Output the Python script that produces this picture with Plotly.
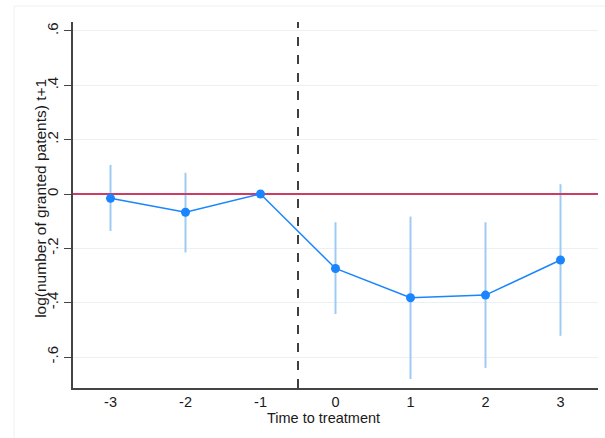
import plotly.graph_objects as go

periods = [-3, -2, -1, 0, 1, 2, 3]
estimates = [-0.016, -0.067, 0.0, -0.274, -0.382, -0.372, -0.243]
ci_upper = [0.107, 0.078, None, -0.104, -0.083, -0.104, 0.036]
ci_lower = [-0.136, -0.215, None, -0.442, -0.681, -0.640, -0.522]
y_ticks = [-0.6, -0.4, -0.2, 0, 0.2, 0.4, 0.6]
y_tick_labels = ["-.6", "-.4", "-.2", "0", ".2", ".4", ".6"]
x_tick_labels = ["-3", "-2", "-1", "0", "1", "2", "3"]
x_title = "Time to treatment"
y_title = "log(number of granted patents) t+1"

FONT = "Liberation Sans, Arial, sans-serif"
BLUE = "#1a85ff"
LIGHT_BLUE = "#9fcbf2"
RED = "#cc3d66"
TEXT = "#1a1a1a"

fig = go.Figure()

# CI bars
ci_x, ci_y = [], []
for p, lo, hi in zip(periods, ci_lower, ci_upper):
    if lo is None:
        continue
    ci_x += [p, p, None]
    ci_y += [lo, hi, None]
fig.add_trace(go.Scatter(x=ci_x, y=ci_y, mode="lines",
                         line=dict(color=LIGHT_BLUE, width=2),
                         hoverinfo="skip", showlegend=False))

# zero reference line
fig.add_trace(go.Scatter(x=[-3.5, 3.5], y=[0, 0], mode="lines",
                         line=dict(color=RED, width=2),
                         hoverinfo="skip", showlegend=False))

# treatment line
fig.add_vline(x=-0.5, line=dict(color="black", width=1.5, dash="dash"))

fig.add_trace(go.Scatter(x=periods, y=estimates, mode="lines+markers",
                         line=dict(color=BLUE, width=1.5),
                         marker=dict(color=BLUE, size=9),
                         showlegend=False))

# faint outer frame
fig.add_shape(type="line", xref="paper", yref="paper",
              x0=-0.1124, x1=1.02, y0=1.0437, y1=1.0437,
              line=dict(color="#eef0f0", width=1))
fig.add_shape(type="line", xref="paper", yref="paper",
              x0=-0.1124, x1=-0.1124, y0=-0.15, y1=1.0437,
              line=dict(color="#eef0f0", width=1))

# axis titles
fig.add_annotation(text=x_title, xref="paper", yref="paper",
                   x=0.478, y=-0.081, xanchor="center", yanchor="middle",
                   showarrow=False, font=dict(size=14.5, color=TEXT))
fig.add_annotation(text=y_title, xref="paper", yref="paper",
                   x=-0.062, y=0.518, xanchor="center", yanchor="middle",
                   textangle=-90, showarrow=False,
                   font=dict(size=15.5, color=TEXT))

fig.update_layout(
    width=605, height=438,
    margin=dict(l=73, r=7, t=22, b=50),
    paper_bgcolor="white", plot_bgcolor="white",
    font=dict(family=FONT, size=15, color=TEXT),
    xaxis=dict(range=[-3.5, 3.5], tickvals=periods, ticktext=x_tick_labels,
               showgrid=False, zeroline=False, showline=True,
               linecolor="#444", linewidth=1.5, ticks="", ticklen=0,
               tickfont=dict(size=14.5)),
    yaxis=dict(range=[-0.714, 0.633], tickvals=y_ticks, ticktext=y_tick_labels,
               tickangle=-90, showgrid=True, gridcolor="#eaf0f3", gridwidth=1,
               zeroline=False, showline=True, linecolor="#444", linewidth=1.5,
               ticks="outside", ticklen=7, tickcolor="#444"),
)

fig.write_html("out.html", config={"displayModeBar": False},
               post_script="document.body.style.margin='0';document.body.style.padding='0';")
